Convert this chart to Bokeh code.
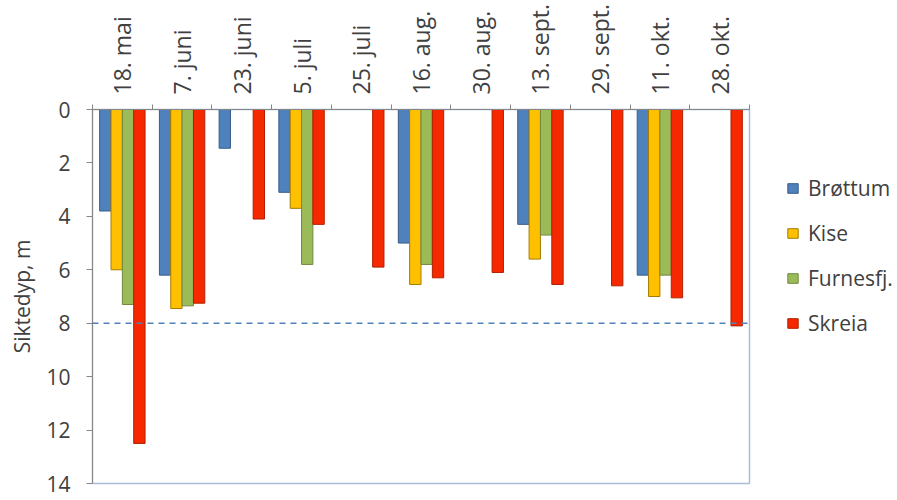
import math
import numpy as np
from bokeh.plotting import figure
from bokeh.models import (Range1d, LinearAxis, FixedTicker, Span, Legend, LegendItem)
from bokeh.embed import file_html
from bokeh.resources import INLINE

dates = ["18. mai", "7. juni", "23. juni", "5. juli", "25. juli", "16. aug.",
         "30. aug.", "13. sept.", "29. sept.", "11. okt.", "28. okt."]
nan = float("nan")
brottum = [3.8, 6.2, 1.45, 3.1, nan, 5.0, nan, 4.3, nan, 6.2, nan]
kise = [6.0, 7.45, nan, 3.7, nan, 6.55, nan, 5.6, nan, 7.0, nan]
furnes = [7.3, 7.35, nan, 5.8, nan, 5.8, nan, 4.7, nan, 6.2, nan]
skreia = [12.5, 7.25, 4.1, 4.3, 5.9, 6.3, 6.1, 6.55, 6.6, 7.05, 8.1]
series_names = ["Brøttum", "Kise", "Furnesfj.", "Skreia"]
series_values = [brottum, kise, furnes, skreia]
fills = ["#4F81BD", "#FFC000", "#9BBB59", "#F52800"]
lines = ["#385D8A", "#A67C00", "#71893F", "#B02000"]
y_ticks = [0, 2, 4, 6, 8, 10, 12, 14]
target_depth = 8

FONT = "Open Sans"
TXT = "#404040"
n = len(dates)
FW, FH = 657, 374

p = figure(frame_width=FW, frame_height=FH, output_backend="svg", toolbar_location=None,
           x_range=Range1d(0, n), y_range=Range1d(14, 0),
           x_axis_location=None, y_axis_location=None,
           min_border_left=92, min_border_top=108, min_border_right=146,
           min_border_bottom=16)
p.background_fill_color = "white"
p.border_fill_color = "white"
p.outline_line_color = "#A8BED8"
p.outline_line_width = 1.5
p.xgrid.visible = False
p.ygrid.visible = False

# y axis (left, inverted)
yax = LinearAxis(ticker=FixedTicker(ticks=y_ticks, minor_ticks=[]))
yax.axis_label = "Siktedyp, m"
yax.axis_label_text_font = FONT
yax.axis_label_text_font_size = "21px"
yax.axis_label_text_font_style = "normal"
yax.axis_label_text_color = TXT
yax.axis_label_standoff = 7
yax.major_label_text_font = FONT
yax.major_label_text_font_size = "21px"
yax.major_label_text_color = TXT
yax.major_label_standoff = 16
yax.major_tick_out = 6
yax.major_tick_in = 0
yax.minor_tick_out = 0
yax.minor_tick_in = 0
yax.axis_line_color = "#868686"
yax.major_tick_line_color = "#868686"
p.add_layout(yax, "left")

# x axis (above) with labels at category centres, ticks at boundaries
centers = [i + 0.5 for i in range(n)]
xax = LinearAxis(ticker=FixedTicker(ticks=centers, minor_ticks=list(range(n + 1))))
xax.major_label_overrides = {c: d for c, d in zip(centers, dates)}
xax.major_label_orientation = math.pi / 2
xax.major_label_text_font = FONT
xax.major_label_text_font_size = "23px"
xax.major_label_text_color = TXT
xax.major_label_standoff = 10
xax.major_tick_out = 0
xax.major_tick_in = 0
xax.minor_tick_out = 5
xax.minor_tick_in = 0
xax.axis_line_color = "#868686"
xax.minor_tick_line_color = "#868686"
p.add_layout(xax, "above")

bar_w = 0.19
offsets = [-0.285, -0.095, 0.095, 0.285]
items = []
for name, vals, fc, lc, off in zip(series_names, series_values, fills, lines, offsets):
    xs = np.arange(n) + 0.5 + off
    r = p.vbar(x=xs, top=vals, bottom=0, width=bar_w, fill_color=fc,
               line_color=lc, line_width=1)
    items.append(LegendItem(label=name, renderers=[r]))

p.add_layout(Span(location=target_depth, dimension="width", line_color="#4F81BD",
                  line_dash="6 5", line_width=1.5))

legend = Legend(items=items, location=(37, 146))
legend.padding = 0
legend.margin = 0
legend.border_line_color = None
legend.background_fill_alpha = 0
legend.glyph_width = 13
legend.glyph_height = 12
legend.label_height = 20
legend.spacing = 17
legend.label_standoff = 9
legend.label_text_font = FONT
legend.label_text_font_size = "21px"
legend.label_text_color = TXT
p.add_layout(legend, "right")

open("out.html", "w").write(file_html(p, INLINE))
